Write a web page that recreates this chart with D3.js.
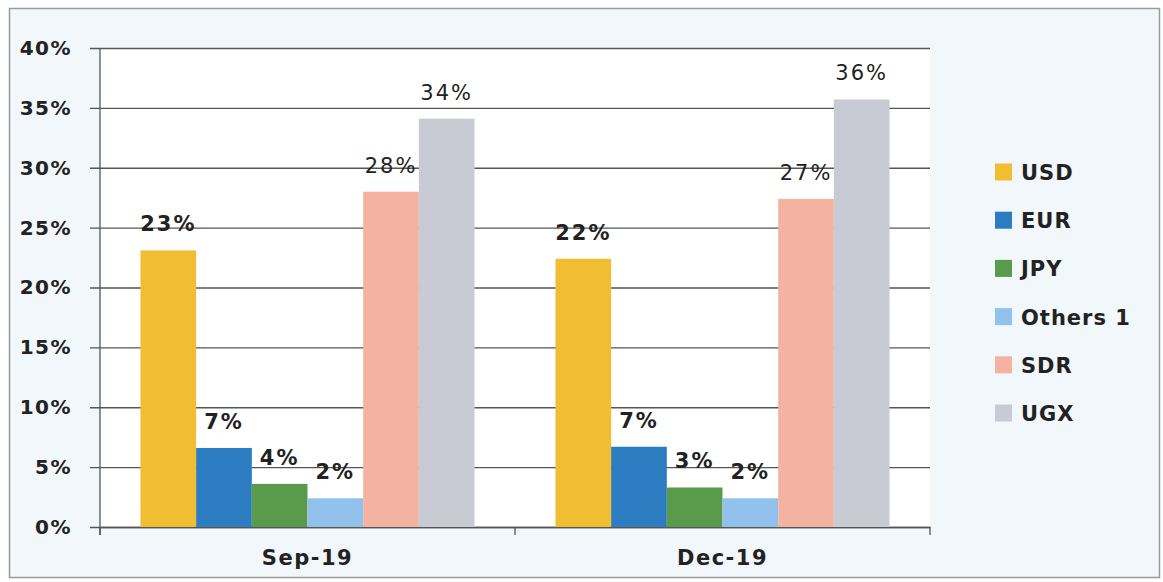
<!DOCTYPE html>
<html><head><meta charset="utf-8">
<script src="https://cdn.jsdelivr.net/npm/d3@7"></script>
<style>
html,body{margin:0;padding:0;background:#fff;}
svg{display:block;font-family:"DejaVu Sans",Verdana,sans-serif;}
</style></head>
<body>
<svg id="chart" width="1163" height="582"></svg>
<script>
const categories = ["Sep-19", "Dec-19"];
const seriesNames = ["USD", "EUR", "JPY", "Others 1", "SDR", "UGX"];
const usd = [0.231, 0.224];
const eur = [0.066, 0.067];
const jpy = [0.036, 0.033];
const others1 = [0.024, 0.024];
const sdr = [0.280, 0.274];
const ugx = [0.341, 0.357];
const yTicks = [0, 0.05, 0.10, 0.15, 0.20, 0.25, 0.30, 0.35, 0.40];
const colors = ["#f0bd33", "#2b7cc1", "#5a9a4b", "#92c2ec", "#f4b3a1", "#c9cbd4"];

const seriesValues = [usd, eur, jpy, others1, sdr, ugx];
const svg = d3.select("#chart");
const W = 1163, H = 582;
const plot = {left: 100, right: 930, top: 48, bottom: 527};

// background
svg.append("rect").attr("x", 0).attr("y", 0).attr("width", W).attr("height", H).attr("fill", "#ffffff");
svg.append("rect").attr("x", 9.5).attr("y", 8.5).attr("width", 1150).attr("height", 569)
  .attr("fill", "#f1f7fa").attr("stroke", "#9a9a9a").attr("stroke-width", 1.5);
svg.append("rect").attr("x", plot.left).attr("y", plot.top).attr("width", plot.right - plot.left)
  .attr("height", plot.bottom - plot.top).attr("fill", "#ffffff");

const y = d3.scaleLinear().domain([0, 0.40]).range([plot.bottom, plot.top]);
const x0 = d3.scaleBand().domain(categories).range([plot.left, plot.right]).padding(0);
const x1 = d3.scaleBand().domain(seriesNames).range([0, x0.bandwidth()]).paddingInner(0).paddingOuter(0.727);
const color = d3.scaleOrdinal().domain(seriesNames).range(colors);

// gridlines + y axis
const yAxis = d3.axisLeft(y).tickValues(yTicks).tickFormat(d3.format(".0%"))
  .tickSize(-(plot.right - plot.left) - 10).tickPadding(18);
const gy = svg.append("g").attr("transform", `translate(${plot.left - 10},0)`).call(yAxis);
gy.select(".domain").remove();
gy.selectAll(".tick line").attr("stroke", "#555").attr("stroke-width", 1.3);
gy.selectAll(".tick text").attr("fill", "#222").attr("font-size", 20).attr("font-weight", "bold")
  .attr("letter-spacing", "1.5px").attr("font-family", "'DejaVu Sans', Verdana, sans-serif");

// vertical axis line
svg.append("line").attr("x1", plot.left).attr("x2", plot.left).attr("y1", plot.top).attr("y2", plot.bottom + 8)
  .attr("stroke", "#555").attr("stroke-width", 1.3);

// bottom axis
const xAxis = d3.axisBottom(x0).tickSize(0).tickPadding(23);
const gx = svg.append("g").attr("transform", `translate(0,${plot.bottom})`).call(xAxis);
gx.select(".domain").attr("stroke", "#555").attr("stroke-width", 1.3);
gx.selectAll(".tick text").attr("fill", "#222").attr("font-size", 21).attr("font-weight", "bold")
  .attr("letter-spacing", "1.5px").attr("font-family", "'DejaVu Sans', Verdana, sans-serif");
// category boundary ticks
const bounds = [plot.left, plot.left + x0.step(), plot.right];
svg.selectAll(".ctick").data(bounds).join("line").attr("class", "ctick")
  .attr("x1", d => d).attr("x2", d => d).attr("y1", plot.bottom).attr("y2", plot.bottom + 8)
  .attr("stroke", "#555").attr("stroke-width", 1.3);

// bars
const data = [];
categories.forEach((c, ci) => {
  seriesNames.forEach((s, si) => data.push({cat: c, series: s, value: seriesValues[si][ci]}));
});
const fmt = d3.format(".0%");
svg.append("g").selectAll("rect").data(data).join("rect")
  .attr("x", d => x0(d.cat) + x1(d.series))
  .attr("y", d => y(d.value))
  .attr("width", x1.bandwidth())
  .attr("height", d => y(0) - y(d.value))
  .attr("fill", d => color(d.series));

svg.append("g").selectAll("text").data(data).join("text")
  .attr("x", d => x0(d.cat) + x1(d.series) + x1.bandwidth() / 2)
  .attr("y", d => y(d.value) - 19)
  .attr("text-anchor", "middle")
  .attr("font-size", 21)
  .attr("letter-spacing", "2px")
  .attr("font-weight", d => (d.series === "SDR" || d.series === "UGX") ? "normal" : "bold")
  .attr("fill", "#222")
  .text(d => fmt(d.value));

// legend
const legend = svg.append("g").attr("transform", "translate(995,172)");
const rows = legend.selectAll("g").data(seriesNames).join("g")
  .attr("transform", (d, i) => `translate(0,${i * 48.2})`);
rows.append("rect").attr("x", 0).attr("y", -8.5).attr("width", 17).attr("height", 17).attr("fill", d => color(d));
rows.append("text").attr("x", 26).attr("y", 8).attr("font-size", 21).attr("font-weight", "bold")
  .attr("fill", "#222").attr("letter-spacing", "1px").text(d => d);
</script>
</body></html>
